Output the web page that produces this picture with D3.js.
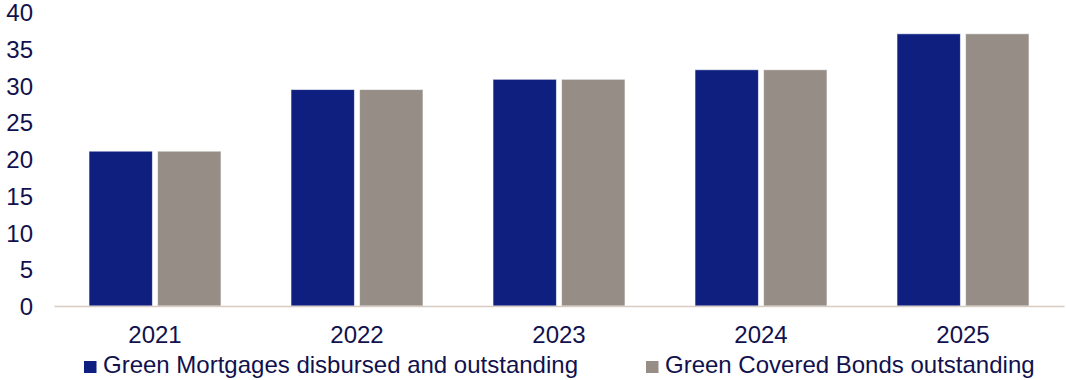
<!DOCTYPE html>
<html>
<head>
<meta charset="utf-8">
<script src="https://cdn.jsdelivr.net/npm/d3@7"></script>
<style>
    body { margin: 0; background: #fff; }
    text { font-family: "Liberation Sans", Arial, sans-serif; }
</style>
</head>
<body>
<svg id="chart" width="1066" height="380"></svg>
<script>
// chart data
const years = ["2021", "2022", "2023", "2024", "2025"];
const mortgages = [21.1, 29.5, 30.9, 32.2, 37.1];
const coveredBonds = [21.1, 29.5, 30.9, 32.2, 37.1];
const yTicks = [0, 5, 10, 15, 20, 25, 30, 35, 40];
const seriesNames = ["Green Mortgages disbursed and outstanding", "Green Covered Bonds outstanding"];

const textColor = "#11114d";
const colors = ["#0f1f80", "#958d86"];

let svg = d3.select("#chart");

let x = d3.scaleBand()
    .domain(years)
    .range([54, 1064])
    .paddingInner(0)
    .paddingOuter(0);

let y = d3.scaleLinear()
    .domain([0, 40])
    .range([306, 12.5]);

let inner = d3.scaleBand()
    .domain([0, 1])
    .range([35, x.bandwidth() - 35])
    .paddingInner(0.075);

// y axis labels (no line)
let yAxis = svg.append("g")
    .attr("transform", "translate(40,0)")
    .call(d3.axisLeft(y).tickValues(yTicks).tickSize(0).tickPadding(7));
yAxis.select(".domain").remove();
yAxis.selectAll("text")
    .attr("fill", textColor)
    .style("font-size", "24px")
    .attr("dy", "0.35em");

// bars
let rows = years.map((yr, i) => ({ year: yr, values: [mortgages[i], coveredBonds[i]] }));

let groups = svg.selectAll("g.year")
    .data(rows)
    .enter().append("g")
    .attr("class", "year")
    .attr("transform", d => "translate(" + x(d.year) + ",0)");

groups.selectAll("rect")
    .data(d => d.values.map((v, k) => ({ k: k, v: v })))
    .enter().append("rect")
    .attr("x", d => inner(d.k))
    .attr("width", inner.bandwidth())
    .attr("y", d => y(d.v))
    .attr("height", d => y(0) - y(d.v))
    .attr("fill", d => colors[d.k])
    .attr("stroke", "#ffffff")
    .attr("stroke-opacity", 0.6)
    .attr("stroke-width", 1);

// x axis
let xAxis = svg.append("g")
    .attr("transform", "translate(0,306)")
    .call(d3.axisBottom(x).tickSize(0).tickPadding(20));
xAxis.select(".domain")
    .attr("stroke", "#d6ccc4")
    .attr("stroke-width", 1.5);
xAxis.selectAll("text")
    .attr("fill", textColor)
    .style("font-size", "24px");

// legend
let legendX = [84, 646];
let legend = svg.selectAll("g.legend")
    .data(seriesNames)
    .enter().append("g")
    .attr("class", "legend")
    .attr("transform", (d, i) => "translate(" + legendX[i] + ",0)");

legend.append("rect")
    .attr("x", 0)
    .attr("y", 361)
    .attr("width", 12.5)
    .attr("height", 12)
    .attr("fill", (d, i) => colors[i]);

legend.append("text")
    .attr("x", 19)
    .attr("y", 373)
    .attr("fill", textColor)
    .style("font-size", "24px")
    .text(d => d);
</script>
</body>
</html>
